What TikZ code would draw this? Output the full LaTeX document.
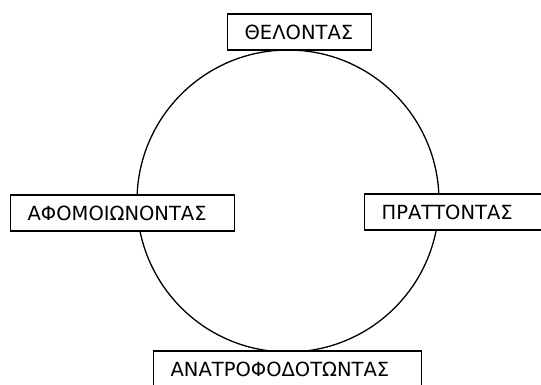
\documentclass[tikz,border=0pt]{standalone}
\usepackage{fontspec}
\setmainfont{DejaVu Sans}
\begin{document}
\begin{tikzpicture}[x=1pt,y=-1pt,
  lbl/.style={draw=black, fill=white, line width=1.3pt, anchor=west,
    inner xsep=17pt, inner ysep=0pt, minimum height=36pt, align=left,
    font=\fontsize{19.5}{22}\selectfont}]
\useasboundingbox (0,0) rectangle (541,385);
\clip (0,0) rectangle (541,385);
\node[draw=black, line width=1.3pt, circle, minimum size=302pt, inner sep=0pt] (c) at (288,201) {};
\node[lbl, text width=110pt] (top) at (227,32) {ΘΕΛΟΝΤΑΣ};
\node[lbl, text width=190pt] (left) at (10,213) {ΑΦΟΜΟΙΩΝΟΝΤΑΣ};
\node[lbl, text width=145pt] (right) at (364,212) {ΠΡΑΤΤΟΝΤΑΣ};
\node[lbl, text width=234pt] (bottom) at (153,369) {ΑΝΑΤΡΟΦΟΔΟΤΩΝΤΑΣ};
\end{tikzpicture}
\end{document}
